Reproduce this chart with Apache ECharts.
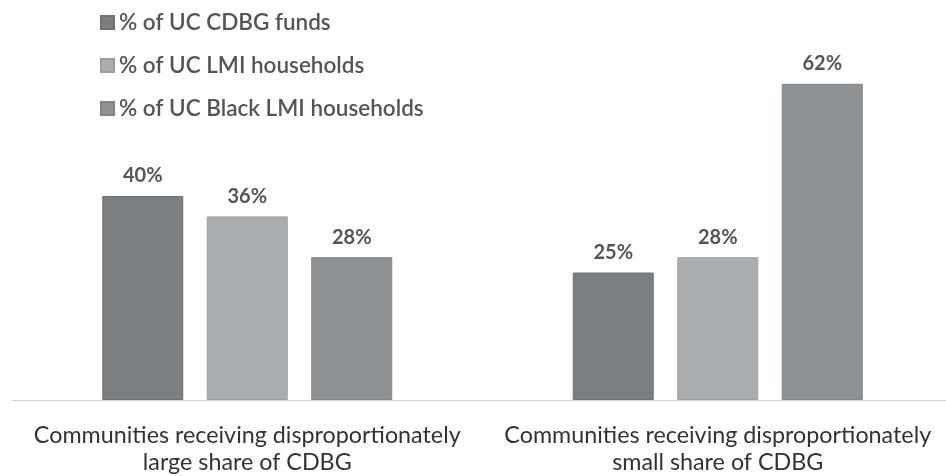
<!DOCTYPE html>
<html>
<head>
<meta charset="utf-8">
<script src="https://cdn.jsdelivr.net/npm/echarts@6/dist/echarts.min.js"></script>
<style>
  html, body { margin: 0; padding: 0; background: #fff; overflow: hidden; }
  #chart { width: 953px; height: 476px; }
</style>
</head>
<body>
<div id="chart"></div>
<script>
// Share of Urban County CDBG funds vs. LMI households, by community group
const categories = [
  'Communities receiving disproportionately\nlarge share of CDBG',
  'Communities receiving disproportionately\nsmall share of CDBG'
];
const seriesNames = [
  '% of UC CDBG funds',
  '% of UC LMI households',
  '% of UC Black LMI households'
];
const cdbgFunds = [40, 25];
const lmiHouseholds = [36, 28];
const blackLmiHouseholds = [28, 62];

const colors = ['#7c7f82', '#aaadb0', '#8f9295'];
const borders = ['#6e7174', '#9c9fa2', '#818487'];
const values = [cdbgFunds, lmiHouseholds, blackLmiHouseholds];

const font = 'Lato, "Open Sans", "DejaVu Sans", sans-serif';

const chart = echarts.init(document.getElementById('chart'), null, { renderer: 'canvas' });
chart.setOption({
  backgroundColor: '#ffffff',
  animation: false,
  legend: {
    orient: 'vertical',
    left: 95,
    top: 6,
    itemWidth: 13,
    itemHeight: 13,
    itemGap: 20,
    icon: 'rect',
    textStyle: { fontFamily: font, fontSize: 22.5, fontWeight: 600, color: '#555' },
    data: seriesNames
  },
  grid: { left: 12, right: 0, top: 43, bottom: 74 },
  xAxis: {
    type: 'category',
    data: categories,
    axisLine: { show: true, lineStyle: { color: '#d2d2d2', width: 1 } },
    axisTick: { show: false },
    axisLabel: {
      interval: 0,
      fontFamily: font,
      fontSize: 23.3,
      color: '#333',
      lineHeight: 27,
      margin: 22
    }
  },
  yAxis: {
    type: 'value',
    min: 0,
    max: 70,
    show: false,
    splitLine: { show: false }
  },
  series: seriesNames.map((name, i) => ({
    name,
    type: 'bar',
    data: values[i],
    barWidth: 81,
    barGap: '29%',
    itemStyle: { color: colors[i], borderColor: borders[i], borderWidth: 1 },
    label: {
      show: true,
      position: 'top',
      distance: 10,
      formatter: '{c}%',
      fontFamily: font,
      fontSize: 20,
      fontWeight: 700,
      color: '#555'
    }
  }))
});
</script>
</body>
</html>
